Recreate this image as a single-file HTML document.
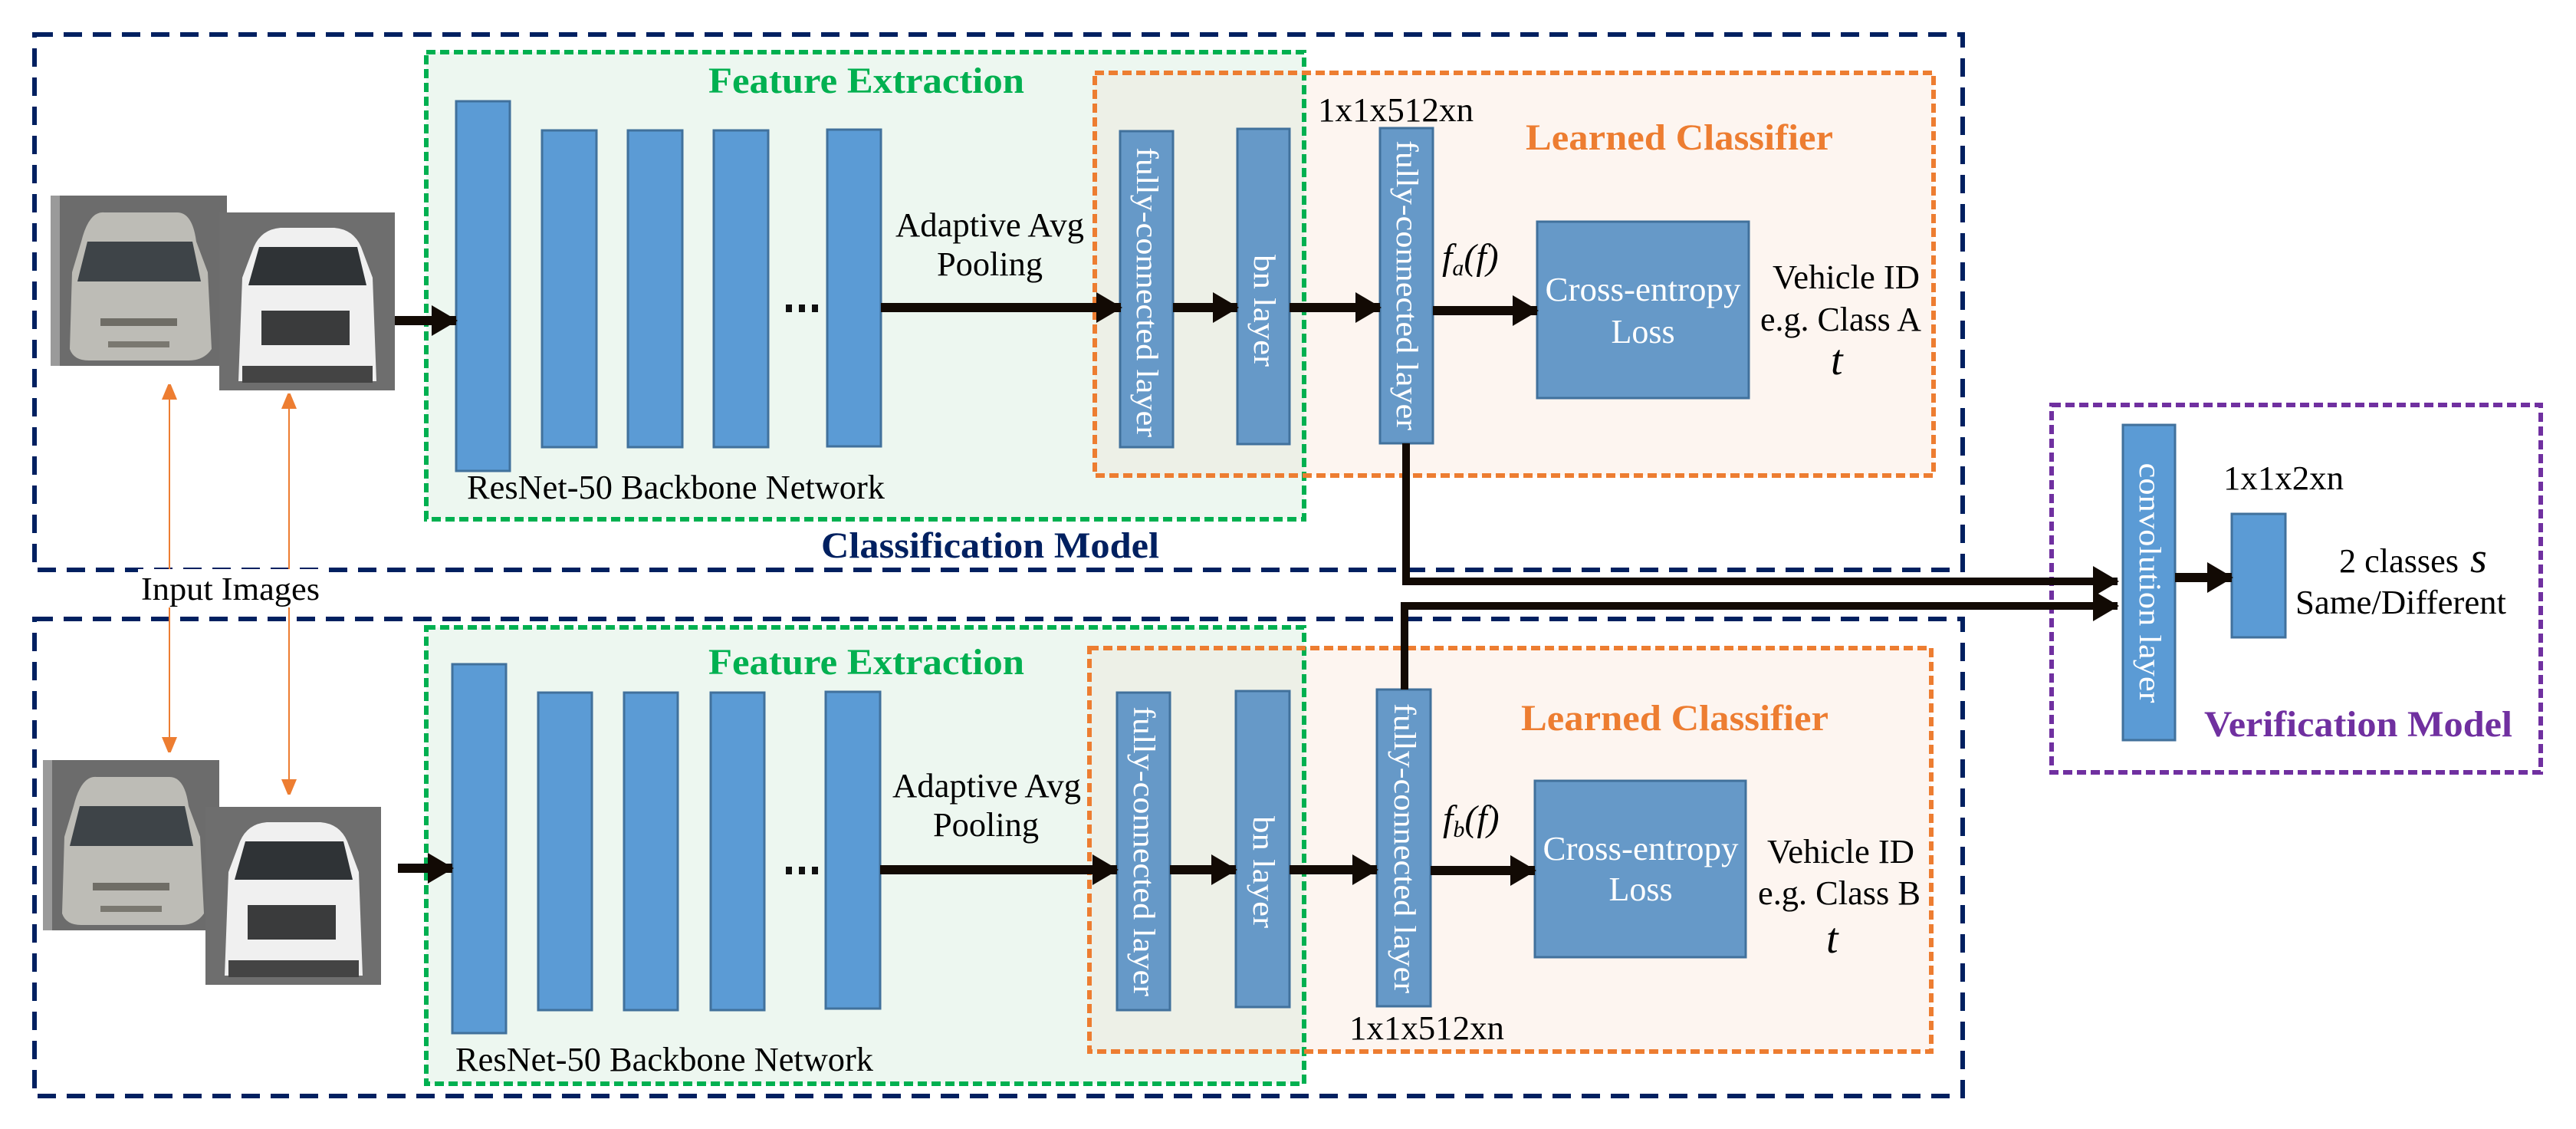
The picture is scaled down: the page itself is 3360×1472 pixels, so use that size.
<!DOCTYPE html>
<html><head><meta charset="utf-8"><style>html,body{margin:0;padding:0;background:#fff}svg{display:block}
svg text{font-family:"Liberation Serif","DejaVu Serif",serif}</style></head>
<body>
<svg xmlns="http://www.w3.org/2000/svg" width="3360" height="1472" viewBox="0 0 3360 1472">
<defs>
<marker id="ah" markerUnits="userSpaceOnUse" markerWidth="34" markerHeight="40" refX="32" refY="20" orient="auto"><path d="M0,0 L34,20 L0,40 Z" fill="#120a04"/></marker>
<marker id="oa" markerUnits="userSpaceOnUse" markerWidth="20" markerHeight="28" refX="19" refY="10" orient="auto"><path d="M0,0 L24,10 L0,20 Z" fill="#ed7d31"/></marker>
<g id="car1">
 <rect x="0" y="0" width="230" height="222" fill="#6c6c6c"/>
 <rect x="0" y="0" width="12" height="222" fill="#9a9a9a"/>
 <path d="M40,60 Q50,20 70,22 L165,22 Q185,22 190,60 L205,100 L210,200 Q200,215 180,215 L50,215 Q30,215 25,200 L28,100 Z" fill="#bdbcb6"/>
 <path d="M48,60 L185,60 L196,112 L35,112 Z" fill="#3e4448"/>
 <rect x="65" y="160" width="100" height="10" fill="#6f6d66"/>
 <rect x="75" y="190" width="80" height="8" fill="#7a7870"/>
</g>
<g id="car2">
 <rect x="0" y="0" width="229" height="232" fill="#6e6e6e"/>
 <path d="M45,45 Q55,22 80,20 L150,20 Q175,22 185,45 L200,85 L205,220 L25,220 L30,85 Z" fill="#f0f0f0"/>
 <path d="M52,45 L180,45 L192,95 L38,95 Z" fill="#2f3336"/>
 <rect x="55" y="128" width="115" height="45" fill="#3a3b3c"/>
 <rect x="30" y="200" width="170" height="22" fill="#444"/>
</g>
</defs>

<rect x="45" y="45" width="2515" height="698" fill="none" stroke="#002060" stroke-width="6" stroke-dasharray="24,14"/>
<rect x="45" y="807" width="2515" height="622" fill="none" stroke="#002060" stroke-width="6" stroke-dasharray="24,14"/>

<rect x="556" y="68" width="1145" height="609" fill="#edf7f0"/>
<rect x="1428" y="95" width="1094" height="525" fill="#fdf5f0"/>
<rect x="1428" y="95" width="273" height="525" fill="#edf0e7"/>
<rect x="556" y="68" width="1145" height="609" fill="none" stroke="#00b050" stroke-width="6" stroke-dasharray="12,6"/>
<rect x="1428" y="95" width="1094" height="525" fill="none" stroke="#ed7d31" stroke-width="6" stroke-dasharray="12,6"/>

<rect x="556" y="818" width="1145" height="595" fill="#edf7f0"/>
<rect x="1421" y="845" width="1098" height="526" fill="#fdf5f0"/>
<rect x="1421" y="845" width="280" height="526" fill="#edf0e7"/>
<rect x="556" y="818" width="1145" height="595" fill="none" stroke="#00b050" stroke-width="6" stroke-dasharray="12,6"/>
<rect x="1421" y="845" width="1098" height="526" fill="none" stroke="#ed7d31" stroke-width="6" stroke-dasharray="12,6"/>

<rect x="2676" y="528" width="638" height="479" fill="none" stroke="#7030a0" stroke-width="6" stroke-dasharray="12,6"/>

<g fill="#5b9bd5" stroke="#41719c" stroke-width="3">
 <rect x="595" y="132" width="70" height="482"/>
 <rect x="707" y="170" width="71" height="413"/>
 <rect x="819" y="170" width="71" height="413"/>
 <rect x="931" y="170" width="71" height="413"/>
 <rect x="1079" y="169" width="70" height="413"/>
 <rect x="590" y="866" width="70" height="481"/>
 <rect x="702" y="903" width="70" height="414"/>
 <rect x="814" y="903" width="70" height="414"/>
 <rect x="927" y="903" width="70" height="414"/>
 <rect x="1077" y="902" width="71" height="413"/>
 <rect x="2769" y="554" width="68" height="411"/>
 <rect x="2911" y="670" width="70" height="161"/>
</g>
<g fill="#6699c8" stroke="#41719c" stroke-width="3">
 <rect x="1461" y="171" width="69" height="412"/>
 <rect x="1614" y="168" width="68" height="411"/>
 <rect x="1800" y="167" width="69" height="411"/>
 <rect x="2005" y="289" width="276" height="230"/>
 <rect x="1457" y="903" width="69" height="414"/>
 <rect x="1612" y="901" width="70" height="412"/>
 <rect x="1796" y="899" width="70" height="413"/>
 <rect x="2002" y="1018" width="275" height="230"/>
</g>

<g fill="#111"><rect x="1025" y="397" width="8" height="10"/><rect x="1042" y="397" width="8" height="10"/><rect x="1059" y="397" width="8" height="10"/>
<rect x="1025" y="1130" width="8" height="10"/><rect x="1042" y="1130" width="8" height="10"/><rect x="1059" y="1130" width="8" height="10"/></g>

<use href="#car1" x="66" y="255"/>
<use href="#car2" x="286" y="277"/>
<use href="#car1" x="56" y="991"/>
<use href="#car2" x="268" y="1052"/>

<line x1="221" y1="980" x2="221" y2="502" stroke="#ed7d31" stroke-width="2" marker-end="url(#oa)"/>
<line x1="221" y1="502" x2="221" y2="980" stroke="#ed7d31" stroke-width="2" marker-end="url(#oa)"/>
<line x1="377" y1="1035" x2="377" y2="514" stroke="#ed7d31" stroke-width="2" marker-end="url(#oa)"/>
<line x1="377" y1="514" x2="377" y2="1035" stroke="#ed7d31" stroke-width="2" marker-end="url(#oa)"/>
<rect x="180" y="742" width="240" height="50" fill="#fff"/>
<text x="184" y="782" font-size="42" textLength="233" lengthAdjust="spacingAndGlyphs">Input Images</text>

<g stroke="#120a04" stroke-width="12" fill="none">
 <line x1="515" y1="418" x2="595" y2="418" marker-end="url(#ah)"/>
 <line x1="1149" y1="401" x2="1462" y2="401" marker-end="url(#ah)"/>
 <line x1="1530" y1="401" x2="1614" y2="401" marker-end="url(#ah)"/>
 <line x1="1682" y1="401" x2="1800" y2="401" marker-end="url(#ah)"/>
 <line x1="1869" y1="405" x2="2005" y2="405" marker-end="url(#ah)"/>
 <line x1="519" y1="1132" x2="590" y2="1132" marker-end="url(#ah)"/>
 <line x1="1148" y1="1134" x2="1457" y2="1134" marker-end="url(#ah)"/>
 <line x1="1526" y1="1134" x2="1612" y2="1134" marker-end="url(#ah)"/>
 <line x1="1682" y1="1134" x2="1796" y2="1134" marker-end="url(#ah)"/>
 <line x1="1866" y1="1135" x2="2002" y2="1135" marker-end="url(#ah)"/>
 <line x1="2837" y1="753" x2="2911" y2="753" marker-end="url(#ah)"/>
 <polyline points="1834,578 1834,758 2762,758" stroke-width="10" marker-end="url(#ah)"/>
 <polyline points="1832,899 1832,790 2762,790" stroke-width="10" marker-end="url(#ah)"/>
</g>

<g font-weight="bold" font-size="48">
<text x="924" y="121" fill="#00b050" textLength="412" lengthAdjust="spacingAndGlyphs">Feature Extraction</text>
<text x="924" y="879" fill="#00b050" textLength="412" lengthAdjust="spacingAndGlyphs">Feature Extraction</text>
<text x="1990" y="195" fill="#ed7d31" textLength="401" lengthAdjust="spacingAndGlyphs">Learned Classifier</text>
<text x="1984" y="952" fill="#ed7d31" textLength="401" lengthAdjust="spacingAndGlyphs">Learned Classifier</text>
<text x="1071" y="727" fill="#002060" textLength="441" lengthAdjust="spacingAndGlyphs">Classification Model</text>
<text x="2875" y="960" fill="#7030a0" textLength="402" lengthAdjust="spacingAndGlyphs">Verification Model</text>
</g>

<g font-size="44" fill="#000">
<text x="1168" y="308" textLength="246" lengthAdjust="spacingAndGlyphs">Adaptive Avg</text>
<text x="1222" y="359" textLength="138" lengthAdjust="spacingAndGlyphs">Pooling</text>
<text x="1164" y="1039" textLength="246" lengthAdjust="spacingAndGlyphs">Adaptive Avg</text>
<text x="1217" y="1090" textLength="138" lengthAdjust="spacingAndGlyphs">Pooling</text>
<text x="609" y="650" textLength="545" lengthAdjust="spacingAndGlyphs">ResNet-50 Backbone Network</text>
<text x="594" y="1396" textLength="545" lengthAdjust="spacingAndGlyphs">ResNet-50 Backbone Network</text>
<text x="1719" y="158" textLength="203" lengthAdjust="spacingAndGlyphs">1x1x512xn</text>
<text x="1760" y="1355" textLength="202" lengthAdjust="spacingAndGlyphs">1x1x512xn</text>
<text x="2900" y="638" textLength="157" lengthAdjust="spacingAndGlyphs">1x1x2xn</text>
<text x="2312" y="376" textLength="192" lengthAdjust="spacingAndGlyphs">Vehicle ID</text>
<text x="2296" y="431" textLength="210" lengthAdjust="spacingAndGlyphs">e.g. Class A</text>
<text x="2305" y="1125" textLength="192" lengthAdjust="spacingAndGlyphs">Vehicle ID</text>
<text x="2293" y="1179" textLength="212" lengthAdjust="spacingAndGlyphs">e.g. Class B</text>
<text x="3051" y="746" textLength="156" lengthAdjust="spacingAndGlyphs">2 classes</text>
<text x="2994" y="800" textLength="275" lengthAdjust="spacingAndGlyphs">Same/Different</text>
<text x="3222" y="746" font-size="56" font-style="italic">s</text>
<text x="2388" y="488" font-size="56" font-style="italic">t</text>
<text x="2382" y="1242" font-size="56" font-style="italic">t</text>
<text x="1881" y="351" font-size="48" font-style="italic">f<tspan font-size="30" dy="8">a</tspan><tspan dy="-8">(</tspan>f<tspan>)</tspan></text>
<text x="1882" y="1083" font-size="48" font-style="italic">f<tspan font-size="30" dy="8">b</tspan><tspan dy="-8">(</tspan>f<tspan>)</tspan></text>
</g>

<g font-size="44" fill="#fff" text-anchor="middle">
<text x="2143" y="392" textLength="255" lengthAdjust="spacingAndGlyphs">Cross-entropy</text>
<text x="2143" y="447">Loss</text>
<text x="2140" y="1121" textLength="255" lengthAdjust="spacingAndGlyphs">Cross-entropy</text>
<text x="2140" y="1174">Loss</text>
</g>

<g font-size="40" fill="#fff" text-anchor="middle">
<text transform="translate(1483,381) rotate(90)" textLength="378" lengthAdjust="spacingAndGlyphs">fully-connected layer</text>
<text transform="translate(1636,405) rotate(90)" textLength="146" lengthAdjust="spacingAndGlyphs">bn layer</text>
<text transform="translate(1822,372) rotate(90)" textLength="378" lengthAdjust="spacingAndGlyphs">fully-connected layer</text>
<text transform="translate(1479,1110) rotate(90)" textLength="378" lengthAdjust="spacingAndGlyphs">fully-connected layer</text>
<text transform="translate(1635,1137) rotate(90)" textLength="146" lengthAdjust="spacingAndGlyphs">bn layer</text>
<text transform="translate(1819,1106) rotate(90)" textLength="378" lengthAdjust="spacingAndGlyphs">fully-connected layer</text>
<text transform="translate(2791,760) rotate(90)" textLength="313" lengthAdjust="spacingAndGlyphs">convolution layer</text>
</g>
</svg>
</body></html>
